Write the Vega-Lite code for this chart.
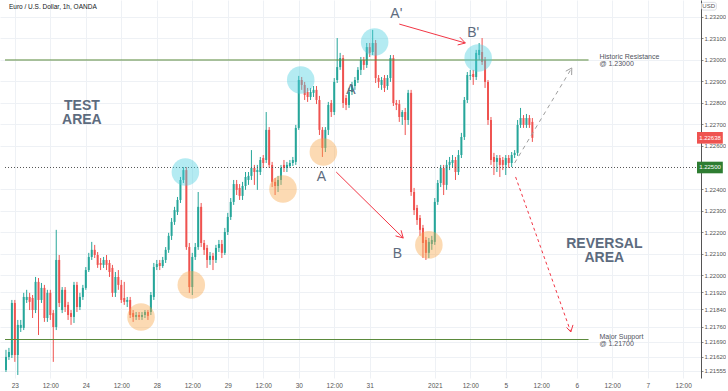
{
"$schema": "https://vega.github.io/schema/vega-lite/v6.json",
"width": 701, "height": 378,
"autosize": {"type": "pad"},
"padding": 0,
"background": "#ffffff",
"config": {"view": {"stroke": null}, "font": "Liberation Sans"},
"datasets": {
"candles": [
{"i":0,"o":1.21558,"h":1.21652,"l":1.21549,"c":1.21619},
{"i":1,"o":1.21619,"h":1.21661,"l":1.21605,"c":1.21642},
{"i":2,"o":1.21628,"h":1.21884,"l":1.21614,"c":1.21870},
{"i":3,"o":1.21870,"h":1.21884,"l":1.21596,"c":1.21628},
{"i":4,"o":1.21628,"h":1.21791,"l":1.21535,"c":1.21768},
{"i":5,"o":1.21754,"h":1.21791,"l":1.21735,"c":1.21768},
{"i":6,"o":1.21754,"h":1.21917,"l":1.21744,"c":1.21898},
{"i":7,"o":1.21884,"h":1.21931,"l":1.21870,"c":1.21898},
{"i":8,"o":1.21898,"h":1.21917,"l":1.21837,"c":1.21875},
{"i":9,"o":1.21893,"h":1.21907,"l":1.21800,"c":1.21837},
{"i":10,"o":1.21837,"h":1.21991,"l":1.21823,"c":1.21968},
{"i":11,"o":1.21968,"h":1.21986,"l":1.21721,"c":1.21884},
{"i":12,"o":1.21884,"h":1.21963,"l":1.21870,"c":1.21940},
{"i":13,"o":1.21940,"h":1.21954,"l":1.21782,"c":1.21800},
{"i":14,"o":1.21800,"h":1.21931,"l":1.21782,"c":1.21917},
{"i":15,"o":1.21917,"h":1.21931,"l":1.21791,"c":1.21814},
{"i":16,"o":1.21823,"h":1.21837,"l":1.21596,"c":1.21758},
{"i":17,"o":1.21758,"h":1.22210,"l":1.21744,"c":1.22070},
{"i":18,"o":1.22070,"h":1.22093,"l":1.21851,"c":1.21870},
{"i":19,"o":1.21837,"h":1.21944,"l":1.21823,"c":1.21931},
{"i":20,"o":1.21931,"h":1.21944,"l":1.21828,"c":1.21851},
{"i":21,"o":1.21861,"h":1.21875,"l":1.21791,"c":1.21814},
{"i":22,"o":1.21823,"h":1.21837,"l":1.21768,"c":1.21805},
{"i":23,"o":1.21805,"h":1.21968,"l":1.21777,"c":1.21954},
{"i":24,"o":1.21954,"h":1.21968,"l":1.21828,"c":1.21851},
{"i":25,"o":1.21851,"h":1.21917,"l":1.21837,"c":1.21898},
{"i":26,"o":1.21898,"h":1.21954,"l":1.21884,"c":1.21940},
{"i":27,"o":1.21940,"h":1.22037,"l":1.21931,"c":1.22023},
{"i":28,"o":1.22023,"h":1.22103,"l":1.22014,"c":1.22084},
{"i":29,"o":1.22084,"h":1.22154,"l":1.22070,"c":1.22117},
{"i":30,"o":1.22117,"h":1.22140,"l":1.22079,"c":1.22093},
{"i":31,"o":1.22093,"h":1.22107,"l":1.22033,"c":1.22047},
{"i":32,"o":1.22056,"h":1.22079,"l":1.22023,"c":1.22047},
{"i":33,"o":1.22047,"h":1.22084,"l":1.22033,"c":1.22070},
{"i":34,"o":1.22070,"h":1.22093,"l":1.22023,"c":1.22047},
{"i":35,"o":1.22056,"h":1.22070,"l":1.21991,"c":1.22014},
{"i":36,"o":1.22033,"h":1.22047,"l":1.21898,"c":1.21917},
{"i":37,"o":1.21917,"h":1.22014,"l":1.21898,"c":1.21991},
{"i":38,"o":1.21991,"h":1.22023,"l":1.21931,"c":1.21954},
{"i":39,"o":1.21954,"h":1.21977,"l":1.21870,"c":1.21884},
{"i":40,"o":1.21893,"h":1.21968,"l":1.21861,"c":1.21875},
{"i":41,"o":1.21875,"h":1.21898,"l":1.21851,"c":1.21884},
{"i":42,"o":1.21884,"h":1.21898,"l":1.21800,"c":1.21814},
{"i":43,"o":1.21823,"h":1.21837,"l":1.21782,"c":1.21805},
{"i":44,"o":1.21805,"h":1.21828,"l":1.21791,"c":1.21814},
{"i":45,"o":1.21814,"h":1.21828,"l":1.21791,"c":1.21805},
{"i":46,"o":1.21805,"h":1.21828,"l":1.21791,"c":1.21814},
{"i":47,"o":1.21814,"h":1.21837,"l":1.21800,"c":1.21828},
{"i":48,"o":1.21828,"h":1.21837,"l":1.21791,"c":1.21810},
{"i":49,"o":1.21828,"h":1.21921,"l":1.21814,"c":1.21907},
{"i":50,"o":1.21898,"h":1.22056,"l":1.21884,"c":1.22037},
{"i":51,"o":1.22037,"h":1.22070,"l":1.22023,"c":1.22051},
{"i":52,"o":1.22056,"h":1.22070,"l":1.22023,"c":1.22042},
{"i":53,"o":1.22042,"h":1.22084,"l":1.22033,"c":1.22070},
{"i":54,"o":1.22070,"h":1.22130,"l":1.22056,"c":1.22117},
{"i":55,"o":1.22117,"h":1.22196,"l":1.22103,"c":1.22182},
{"i":56,"o":1.22182,"h":1.22265,"l":1.22163,"c":1.22247},
{"i":57,"o":1.22247,"h":1.22317,"l":1.22233,"c":1.22302},
{"i":58,"o":1.22293,"h":1.22363,"l":1.22279,"c":1.22349},
{"i":59,"o":1.22349,"h":1.22456,"l":1.22335,"c":1.22442},
{"i":60,"o":1.22442,"h":1.22502,"l":1.22428,"c":1.22488},
{"i":61,"o":1.22488,"h":1.22502,"l":1.22117,"c":1.22130},
{"i":62,"o":1.22130,"h":1.22149,"l":1.21917,"c":1.21944},
{"i":63,"o":1.21944,"h":1.22103,"l":1.21907,"c":1.22084},
{"i":64,"o":1.22084,"h":1.22149,"l":1.22070,"c":1.22130},
{"i":65,"o":1.22130,"h":1.22386,"l":1.22117,"c":1.22317},
{"i":66,"o":1.22317,"h":1.22335,"l":1.22130,"c":1.22149},
{"i":67,"o":1.22149,"h":1.22163,"l":1.22093,"c":1.22117},
{"i":68,"o":1.22126,"h":1.22140,"l":1.22033,"c":1.22070},
{"i":69,"o":1.22070,"h":1.22107,"l":1.22047,"c":1.22089},
{"i":70,"o":1.22089,"h":1.22103,"l":1.22023,"c":1.22070},
{"i":71,"o":1.22070,"h":1.22140,"l":1.22056,"c":1.22126},
{"i":72,"o":1.22126,"h":1.22163,"l":1.22107,"c":1.22144},
{"i":73,"o":1.22144,"h":1.22163,"l":1.22079,"c":1.22103},
{"i":74,"o":1.22103,"h":1.22219,"l":1.22093,"c":1.22200},
{"i":75,"o":1.22200,"h":1.22289,"l":1.22186,"c":1.22270},
{"i":76,"o":1.22270,"h":1.22358,"l":1.22256,"c":1.22340},
{"i":77,"o":1.22340,"h":1.22442,"l":1.22326,"c":1.22423},
{"i":78,"o":1.22423,"h":1.22442,"l":1.22372,"c":1.22396},
{"i":79,"o":1.22405,"h":1.22423,"l":1.22349,"c":1.22368},
{"i":80,"o":1.22368,"h":1.22433,"l":1.22349,"c":1.22414},
{"i":81,"o":1.22414,"h":1.22479,"l":1.22396,"c":1.22456},
{"i":82,"o":1.22442,"h":1.22479,"l":1.22419,"c":1.22461},
{"i":83,"o":1.22461,"h":1.22581,"l":1.22442,"c":1.22498},
{"i":84,"o":1.22498,"h":1.22512,"l":1.22419,"c":1.22479},
{"i":85,"o":1.22479,"h":1.22512,"l":1.22396,"c":1.22488},
{"i":86,"o":1.22479,"h":1.22549,"l":1.22465,"c":1.22535},
{"i":87,"o":1.22544,"h":1.22558,"l":1.22498,"c":1.22521},
{"i":88,"o":1.22535,"h":1.22758,"l":1.22521,"c":1.22675},
{"i":89,"o":1.22675,"h":1.22688,"l":1.22498,"c":1.22512},
{"i":90,"o":1.22512,"h":1.22526,"l":1.22409,"c":1.22433},
{"i":91,"o":1.22433,"h":1.22451,"l":1.22372,"c":1.22414},
{"i":92,"o":1.22414,"h":1.22461,"l":1.22386,"c":1.22442},
{"i":93,"o":1.22442,"h":1.22512,"l":1.22419,"c":1.22498},
{"i":94,"o":1.22512,"h":1.22535,"l":1.22479,"c":1.22498},
{"i":95,"o":1.22498,"h":1.22526,"l":1.22479,"c":1.22512},
{"i":96,"o":1.22507,"h":1.22535,"l":1.22498,"c":1.22521},
{"i":97,"o":1.22521,"h":1.22549,"l":1.22507,"c":1.22535},
{"i":98,"o":1.22526,"h":1.22698,"l":1.22512,"c":1.22684},
{"i":99,"o":1.22684,"h":1.22926,"l":1.22675,"c":1.22907},
{"i":100,"o":1.22907,"h":1.22921,"l":1.22861,"c":1.22884},
{"i":101,"o":1.22884,"h":1.22898,"l":1.22814,"c":1.22837},
{"i":102,"o":1.22851,"h":1.22870,"l":1.22805,"c":1.22828},
{"i":103,"o":1.22828,"h":1.22870,"l":1.22814,"c":1.22851},
{"i":104,"o":1.22847,"h":1.22879,"l":1.22828,"c":1.22861},
{"i":105,"o":1.22861,"h":1.22879,"l":1.22795,"c":1.22814},
{"i":106,"o":1.22814,"h":1.22833,"l":1.22651,"c":1.22675},
{"i":107,"o":1.22675,"h":1.22688,"l":1.22549,"c":1.22591},
{"i":108,"o":1.22591,"h":1.22688,"l":1.22572,"c":1.22675},
{"i":109,"o":1.22675,"h":1.22805,"l":1.22651,"c":1.22791},
{"i":110,"o":1.22800,"h":1.22814,"l":1.22735,"c":1.22758},
{"i":111,"o":1.22758,"h":1.22916,"l":1.22744,"c":1.22898},
{"i":112,"o":1.22907,"h":1.23102,"l":1.22893,"c":1.22967},
{"i":113,"o":1.22967,"h":1.23033,"l":1.22954,"c":1.23009},
{"i":114,"o":1.23009,"h":1.23023,"l":1.22777,"c":1.22800},
{"i":115,"o":1.22823,"h":1.22837,"l":1.22767,"c":1.22791},
{"i":116,"o":1.22791,"h":1.22870,"l":1.22777,"c":1.22851},
{"i":117,"o":1.22851,"h":1.22898,"l":1.22837,"c":1.22884},
{"i":118,"o":1.22879,"h":1.22921,"l":1.22861,"c":1.22907},
{"i":119,"o":1.22907,"h":1.22967,"l":1.22893,"c":1.22954},
{"i":120,"o":1.22954,"h":1.23014,"l":1.22930,"c":1.23000},
{"i":121,"o":1.23000,"h":1.23014,"l":1.22954,"c":1.22977},
{"i":122,"o":1.22977,"h":1.23079,"l":1.22963,"c":1.23060},
{"i":123,"o":1.23060,"h":1.23079,"l":1.23014,"c":1.23033},
{"i":124,"o":1.23037,"h":1.23140,"l":1.23023,"c":1.23079},
{"i":125,"o":1.23079,"h":1.23093,"l":1.22893,"c":1.22916},
{"i":126,"o":1.22916,"h":1.22930,"l":1.22870,"c":1.22898},
{"i":127,"o":1.22884,"h":1.22921,"l":1.22861,"c":1.22907},
{"i":128,"o":1.22916,"h":1.22930,"l":1.22851,"c":1.22870},
{"i":129,"o":1.22879,"h":1.22930,"l":1.22861,"c":1.22916},
{"i":130,"o":1.22916,"h":1.23023,"l":1.22898,"c":1.23009},
{"i":131,"o":1.23009,"h":1.23023,"l":1.22786,"c":1.22800},
{"i":132,"o":1.22800,"h":1.22814,"l":1.22767,"c":1.22791},
{"i":133,"o":1.22795,"h":1.22814,"l":1.22712,"c":1.22735},
{"i":134,"o":1.22735,"h":1.22767,"l":1.22698,"c":1.22758},
{"i":135,"o":1.22758,"h":1.22777,"l":1.22651,"c":1.22721},
{"i":136,"o":1.22721,"h":1.22861,"l":1.22698,"c":1.22847},
{"i":137,"o":1.22847,"h":1.22861,"l":1.22368,"c":1.22386},
{"i":138,"o":1.22386,"h":1.22405,"l":1.22279,"c":1.22302},
{"i":139,"o":1.22312,"h":1.22326,"l":1.22233,"c":1.22256},
{"i":140,"o":1.22265,"h":1.22279,"l":1.22182,"c":1.22210},
{"i":141,"o":1.22219,"h":1.22233,"l":1.22079,"c":1.22149},
{"i":142,"o":1.22163,"h":1.22177,"l":1.22070,"c":1.22103},
{"i":143,"o":1.22103,"h":1.22172,"l":1.22079,"c":1.22154},
{"i":144,"o":1.22144,"h":1.22182,"l":1.22117,"c":1.22163},
{"i":145,"o":1.22154,"h":1.22358,"l":1.22140,"c":1.22340},
{"i":146,"o":1.22340,"h":1.22442,"l":1.22326,"c":1.22428},
{"i":147,"o":1.22428,"h":1.22512,"l":1.22409,"c":1.22498},
{"i":148,"o":1.22498,"h":1.22512,"l":1.22372,"c":1.22419},
{"i":149,"o":1.22419,"h":1.22535,"l":1.22396,"c":1.22512},
{"i":150,"o":1.22512,"h":1.22549,"l":1.22488,"c":1.22526},
{"i":151,"o":1.22521,"h":1.22558,"l":1.22502,"c":1.22535},
{"i":152,"o":1.22535,"h":1.22549,"l":1.22442,"c":1.22479},
{"i":153,"o":1.22479,"h":1.22581,"l":1.22465,"c":1.22558},
{"i":154,"o":1.22558,"h":1.22661,"l":1.22544,"c":1.22642},
{"i":155,"o":1.22642,"h":1.22828,"l":1.22628,"c":1.22814},
{"i":156,"o":1.22814,"h":1.22944,"l":1.22800,"c":1.22930},
{"i":157,"o":1.22926,"h":1.22954,"l":1.22907,"c":1.22930},
{"i":158,"o":1.22935,"h":1.22954,"l":1.22884,"c":1.22921},
{"i":159,"o":1.22921,"h":1.23047,"l":1.22907,"c":1.23033},
{"i":160,"o":1.23023,"h":1.23079,"l":1.23000,"c":1.23047},
{"i":161,"o":1.23037,"h":1.23102,"l":1.22977,"c":1.22991},
{"i":162,"o":1.23000,"h":1.23014,"l":1.22870,"c":1.22898},
{"i":163,"o":1.22898,"h":1.22907,"l":1.22698,"c":1.22721},
{"i":164,"o":1.22721,"h":1.22735,"l":1.22512,"c":1.22535},
{"i":165,"o":1.22549,"h":1.22568,"l":1.22465,"c":1.22526},
{"i":166,"o":1.22526,"h":1.22558,"l":1.22479,"c":1.22544},
{"i":167,"o":1.22544,"h":1.22558,"l":1.22456,"c":1.22512},
{"i":168,"o":1.22535,"h":1.22549,"l":1.22488,"c":1.22512},
{"i":169,"o":1.22512,"h":1.22558,"l":1.22465,"c":1.22544},
{"i":170,"o":1.22544,"h":1.22558,"l":1.22498,"c":1.22521},
{"i":171,"o":1.22521,"h":1.22572,"l":1.22502,"c":1.22558},
{"i":172,"o":1.22558,"h":1.22581,"l":1.22544,"c":1.22568},
{"i":173,"o":1.22568,"h":1.22721,"l":1.22554,"c":1.22698},
{"i":174,"o":1.22698,"h":1.22777,"l":1.22684,"c":1.22730},
{"i":175,"o":1.22730,"h":1.22744,"l":1.22684,"c":1.22698},
{"i":176,"o":1.22698,"h":1.22749,"l":1.22684,"c":1.22730},
{"i":177,"o":1.22730,"h":1.22744,"l":1.22684,"c":1.22698},
{"i":178,"o":1.22712,"h":1.22730,"l":1.22619,"c":1.22638}
],
"levels": [
{"p":1.23,"x1":-0.33,"x2":197},
{"p":1.217,"x1":-0.33,"x2":197}
],
"current": [
{"p":1.225,"x1":-0.33,"x2":233.33}
],
"circles": [
{"i":60.67,"p":1.22479,"kind":"top"},
{"i":99.67,"p":1.22907,"kind":"top"},
{"i":124.67,"p":1.23084,"kind":"top"},
{"i":159.67,"p":1.23009,"kind":"top"},
{"i":45.67,"p":1.21805,"kind":"bottom"},
{"i":62.67,"p":1.21954,"kind":"bottom"},
{"i":93.67,"p":1.22400,"kind":"bottom"},
{"i":107.33,"p":1.22572,"kind":"bottom"},
{"i":143,"p":1.22140,"kind":"bottom"}
],
"segments": [
{"x":111.67,"y":1.22479,"x2":134.33,"y2":1.22172,"tone":"red","dash":"solid"},
{"x":134.33,"y":1.22172,"x2":131.73,"y2":1.22182,"tone":"red","dash":"solid"},
{"x":134.33,"y":1.22172,"x2":133.6,"y2":1.22208,"tone":"red","dash":"solid"},
{"x":133,"y":1.23167,"x2":155.33,"y2":1.23079,"tone":"red","dash":"solid"},
{"x":155.33,"y":1.23079,"x2":153.47,"y2":1.23106,"tone":"red","dash":"solid"},
{"x":155.33,"y":1.23079,"x2":152.73,"y2":1.2307,"tone":"red","dash":"solid"},
{"x":172,"y":1.22521,"x2":191.33,"y2":1.22963,"tone":"gray","dash":"dash"},
{"x":191.33,"y":1.22963,"x2":189.3,"y2":1.22948,"tone":"gray","dash":"solid"},
{"x":191.33,"y":1.22963,"x2":191.27,"y2":1.2293,"tone":"gray","dash":"solid"},
{"x":172.33,"y":1.22456,"x2":191,"y2":1.21735,"tone":"red","dash":"dash"},
{"x":191,"y":1.21735,"x2":191.73,"y2":1.21768,"tone":"red","dash":"solid"},
{"x":191,"y":1.21735,"x2":189.57,"y2":1.21756,"tone":"red","dash":"solid"}
],
"bigtext": [
{"i":25.67,"p":1.22819,"t":"TEST\nAREA"},
{"i":202.33,"p":1.22177,"t":"REVERSAL\nAREA"}
],
"letters": [
{"i":132,"p":1.23214,"t":"A'"},
{"i":158,"p":1.23127,"t":"B'"},
{"i":116.67,"p":1.2286,"t":"A"},
{"i":106.67,"p":1.22456,"t":"A"},
{"i":132.33,"p":1.22098,"t":"B"}
],
"notes": [
{"i":200.67,"p":1.23033,"t":"Historic Resistance\n@ 1.23000"},
{"i":200.67,"p":1.21731,"t":"Major Support\n@ 1.21700"}
],
"boxes": [
{"x1":233.67,"x2":242.4,"p1":1.22665,"p2":1.22611,"pl":1.22638,"t":"1.22638","kind":"last"},
{"x1":233.67,"x2":242.4,"p1":1.22527,"p2":1.22473,"pl":1.225,"t":"1.22500","kind":"level"}
],
"misc": [
{"i":1,"p":1.23246,"t":"Euro / U.S. Dollar, 1h, OANDA"}
],
"usd": [
{"i":237.6,"p":1.23251,"t":"USD","x1":235.2,"x2":240.2,"p1":1.23268,"p2":1.23232}
]
},
"encoding": {
"x": {"type": "quantitative",
"scale": {"domain": [-0.33, 233.33], "nice": false, "zero": false},
"axis": {
"values": [3,15,27,39,51,63,75,87,99,111,123,145,157,169,181,193,205,217,229],
"labelExpr": "datum.value == 3 ? '23' : datum.value == 27 ? '24' : datum.value == 51 ? '28' : datum.value == 75 ? '29' : datum.value == 99 ? '30' : datum.value == 123 ? '31' : datum.value == 145 ? '2021' : datum.value == 169 ? '5' : datum.value == 193 ? '6' : datum.value == 217 ? '7' : '12:00'",
"title": null, "grid": true, "gridColor": "#eef1f5", "ticks": false, "domain": false,
"labelOverlap": false, "labelFontSize": 6.5, "labelColor": "#555555", "labelPadding": 4, "labelFont": "Liberation Sans"
}},
"y": {"type": "quantitative",
"scale": {"domain": [1.21521, 1.23279], "nice": false, "zero": false},
"axis": {
"orient": "right",
"values": [1.232,1.231,1.23,1.229,1.228,1.227,1.226,1.224,1.223,1.222,1.221,1.22,1.2192,1.2184,1.2176,1.2169,1.2162,1.21555],
"format": ".5f", "title": null, "grid": true, "gridColor": "#eef1f5",
"labelFontSize": 6, "labelColor": "#555555", "labelPadding": 1, "labelFont": "Liberation Sans",
"tickSize": 2, "tickColor": "#888888", "domainColor": "#555555", "domainWidth": 1
}}
},
"layer": [
{
"data": {"name": "candles"},
"mark": {"type": "rule", "strokeWidth": 1},
"encoding": {
"x": {"field": "i", "type": "quantitative", "title": null},
"y": {"field": "l", "type": "quantitative", "title": null},
"y2": {"field": "h"},
"color": {"condition": {"test": "datum.c >= datum.o", "value": "#26a69a"}, "value": "#ef5350"}
}
},
{
"data": {"name": "candles"},
"mark": {"type": "bar", "size": 2},
"encoding": {
"x": {"field": "i", "type": "quantitative", "title": null},
"y": {"field": "o", "type": "quantitative", "title": null},
"y2": {"field": "c"},
"color": {"condition": {"test": "datum.c >= datum.o", "value": "#26a69a"}, "value": "#ef5350"}
}
},
{
"data": {"name": "levels"},
"mark": {"type": "rule", "color": "#5b8a3c", "strokeWidth": 1},
"encoding": {
"x": {"field": "x1", "type": "quantitative", "title": null},
"x2": {"field": "x2"},
"y": {"field": "p", "type": "quantitative", "title": null}
}
},
{
"data": {"name": "current"},
"mark": {"type": "rule", "color": "#555555", "strokeWidth": 1, "strokeDash": [1, 2]},
"encoding": {
"x": {"field": "x1", "type": "quantitative", "title": null},
"x2": {"field": "x2"},
"y": {"field": "p", "type": "quantitative", "title": null}
}
},
{
"data": {"name": "circles"},
"transform": [{"filter": "datum.kind == 'top'"}],
"mark": {"type": "point", "shape": "circle", "filled": true, "size": 760, "opacity": 0.42, "strokeWidth": 0, "color": "#4dd0e1"},
"encoding": {
"x": {"field": "i", "type": "quantitative", "title": null},
"y": {"field": "p", "type": "quantitative", "title": null}
}
},
{
"data": {"name": "circles"},
"transform": [{"filter": "datum.kind == 'bottom'"}],
"mark": {"type": "point", "shape": "circle", "filled": true, "size": 760, "opacity": 0.42, "strokeWidth": 0, "color": "#f7a84a"},
"encoding": {
"x": {"field": "i", "type": "quantitative", "title": null},
"y": {"field": "p", "type": "quantitative", "title": null}
}
},
{
"data": {"name": "segments"},
"transform": [{"filter": "datum.tone == 'red' && datum.dash == 'solid'"}],
"mark": {"type": "rule", "strokeWidth": 1, "color": "#f23645"},
"encoding": {
"x": {"field": "x", "type": "quantitative", "title": null},
"y": {"field": "y", "type": "quantitative", "title": null},
"x2": {"field": "x2"},
"y2": {"field": "y2"}
}
},
{
"data": {"name": "segments"},
"transform": [{"filter": "datum.tone == 'red' && datum.dash == 'dash'"}],
"mark": {"type": "rule", "strokeWidth": 1, "color": "#f23645", "strokeDash": [3, 3]},
"encoding": {
"x": {"field": "x", "type": "quantitative", "title": null},
"y": {"field": "y", "type": "quantitative", "title": null},
"x2": {"field": "x2"},
"y2": {"field": "y2"}
}
},
{
"data": {"name": "segments"},
"transform": [{"filter": "datum.tone == 'gray' && datum.dash == 'dash'"}],
"mark": {"type": "rule", "strokeWidth": 1, "color": "#9e9e9e", "strokeDash": [4, 4]},
"encoding": {
"x": {"field": "x", "type": "quantitative", "title": null},
"y": {"field": "y", "type": "quantitative", "title": null},
"x2": {"field": "x2"},
"y2": {"field": "y2"}
}
},
{
"data": {"name": "segments"},
"transform": [{"filter": "datum.tone == 'gray' && datum.dash == 'solid'"}],
"mark": {"type": "rule", "strokeWidth": 1, "color": "#9e9e9e"},
"encoding": {
"x": {"field": "x", "type": "quantitative", "title": null},
"y": {"field": "y", "type": "quantitative", "title": null},
"x2": {"field": "x2"},
"y2": {"field": "y2"}
}
},
{
"data": {"name": "bigtext"},
"mark": {"type": "text", "fontSize": 14, "fontWeight": "bold", "color": "#5d6b7e", "align": "center", "baseline": "top", "lineBreak": "\n", "lineHeight": 14.5, "font": "Liberation Sans"},
"encoding": {
"x": {"field": "i", "type": "quantitative", "title": null},
"y": {"field": "p", "type": "quantitative", "title": null},
"text": {"field": "t"}
}
},
{
"data": {"name": "letters"},
"mark": {"type": "text", "fontSize": 14, "color": "#5d6b7e", "align": "center", "baseline": "middle", "font": "Liberation Sans"},
"encoding": {
"x": {"field": "i", "type": "quantitative", "title": null},
"y": {"field": "p", "type": "quantitative", "title": null},
"text": {"field": "t"}
}
},
{
"data": {"name": "notes"},
"mark": {"type": "text", "fontSize": 7, "color": "#50535e", "align": "left", "baseline": "top", "lineBreak": "\n", "lineHeight": 7.5, "font": "Liberation Sans"},
"encoding": {
"x": {"field": "i", "type": "quantitative", "title": null},
"y": {"field": "p", "type": "quantitative", "title": null},
"text": {"field": "t"}
}
},
{
"data": {"name": "misc"},
"mark": {"type": "text", "fontSize": 6.5, "color": "#131722", "align": "left", "baseline": "middle", "font": "Liberation Sans"},
"encoding": {
"x": {"field": "i", "type": "quantitative", "title": null},
"y": {"field": "p", "type": "quantitative", "title": null},
"text": {"field": "t"}
}
},
{
"data": {"name": "boxes"},
"transform": [{"filter": "datum.kind == 'last'"}],
"mark": {"type": "rect", "color": "#ef5350"},
"encoding": {
"x": {"field": "x1", "type": "quantitative", "title": null},
"x2": {"field": "x2"},
"y": {"field": "p1", "type": "quantitative", "title": null},
"y2": {"field": "p2"}
}
},
{
"data": {"name": "boxes"},
"transform": [{"filter": "datum.kind == 'level'"}],
"mark": {"type": "rect", "color": "#2e7d32"},
"encoding": {
"x": {"field": "x1", "type": "quantitative", "title": null},
"x2": {"field": "x2"},
"y": {"field": "p1", "type": "quantitative", "title": null},
"y2": {"field": "p2"}
}
},
{
"data": {"name": "boxes"},
"mark": {"type": "text", "fontSize": 6, "color": "#ffffff", "align": "center", "baseline": "middle", "font": "Liberation Sans", "dx": 13},
"encoding": {
"x": {"field": "x1", "type": "quantitative", "title": null},
"y": {"field": "pl", "type": "quantitative", "title": null},
"text": {"field": "t"}
}
},
{
"data": {"name": "usd"},
"mark": {"type": "rect", "fill": "#ffffff", "stroke": "#d1d4dc", "strokeWidth": 0.8, "cornerRadius": 2},
"encoding": {
"x": {"field": "x1", "type": "quantitative", "title": null},
"x2": {"field": "x2"},
"y": {"field": "p1", "type": "quantitative", "title": null},
"y2": {"field": "p2"}
}
},
{
"data": {"name": "usd"},
"mark": {"type": "text", "fontSize": 6, "color": "#555555", "align": "center", "baseline": "middle", "font": "Liberation Sans"},
"encoding": {
"x": {"field": "i", "type": "quantitative", "title": null},
"y": {"field": "p", "type": "quantitative", "title": null},
"text": {"field": "t"}
}
}
]
}
